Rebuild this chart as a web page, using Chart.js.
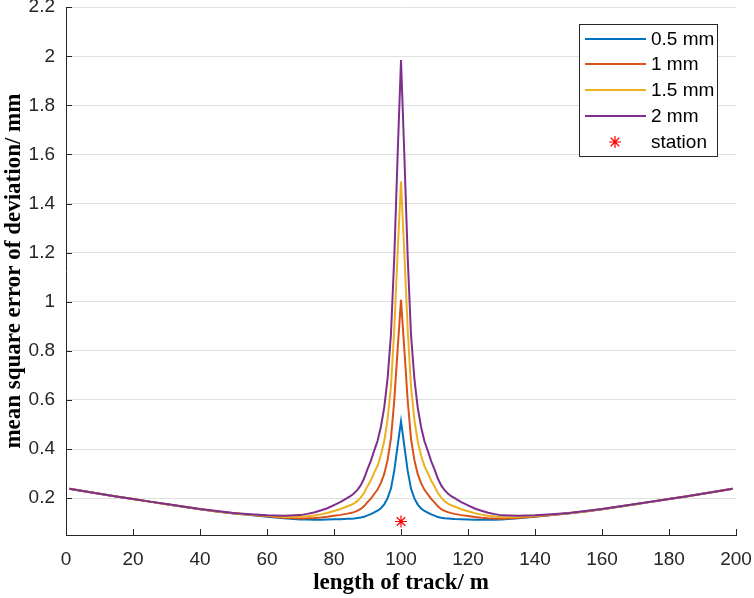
<!DOCTYPE html>
<html><head><meta charset="utf-8">
<script src="https://cdn.jsdelivr.net/npm/chart.js@4/dist/chart.umd.min.js"></script>
<style>html,body{margin:0;padding:0;background:#fff;overflow:hidden}canvas{display:block}</style>
</head><body>
<canvas id="c" width="754" height="598"></canvas>
<script>
// distance along track (m)
const xPos = [1,5,10,15,20,25,30,35,40,45,50,55,60,65,70,72,74,76,78,80,82,84,85,86,87,88,89,90,91,92,93,94,95,96,97,98,99,
  100,
  101,102,103,104,105,106,107,108,109,110,111,112,113,114,115,116,118,120,122,124,126,128,130,135,140,145,150,155,160,165,170,175,180,185,190,195,199];
// mean square error of deviation (mm)
const mm05 = [0.238,0.229,0.218,0.207,0.197,0.186,0.175,0.165,0.155,0.146,0.138,0.131,0.124,0.118,0.113,
  0.113,0.112,0.112,0.113,0.114,0.114,0.116,
  0.116,0.117,0.119,0.121,0.124,0.130,0.135,0.142,0.149,0.159,0.175,0.200,0.239,0.313,0.414,
  0.513,
  0.412,0.311,0.238,0.199,0.174,0.158,0.148,0.141,0.134,0.129,0.123,0.120,0.118,0.117,0.116,0.115,0.114,0.113,0.112,0.112,0.112,0.112,0.113,0.118,0.124,0.131,0.138,0.146,0.155,0.165,0.175,0.186,0.197,0.207,0.218,0.229,0.238];
const mm1 = [0.238,0.229,0.218,0.207,0.197,0.186,0.175,0.165,0.155,0.146,0.139,0.132,0.126,0.120,0.117,
  0.118,0.119,0.121,0.124,0.128,0.132,0.137,
  0.140,0.143,0.149,0.156,0.168,0.184,0.198,0.217,0.235,0.262,0.299,0.356,0.443,0.599,0.807,
  1.008,
  0.805,0.597,0.441,0.355,0.298,0.261,0.234,0.216,0.197,0.183,0.167,0.155,0.148,0.143,0.139,0.136,0.131,0.127,0.123,0.120,0.118,0.117,0.116,0.119,0.125,0.131,0.139,0.146,0.155,0.165,0.175,0.186,0.197,0.207,0.218,0.229,0.238];
const mm15 = [0.238,0.229,0.218,0.207,0.197,0.186,0.175,0.166,0.156,0.147,0.139,0.133,0.128,0.123,0.123,
  0.126,0.129,0.134,0.140,0.148,0.156,0.167,
  0.172,0.179,0.189,0.203,0.222,0.249,0.273,0.304,0.332,0.375,0.433,0.521,0.654,0.891,1.202,
  1.490,
  1.198,0.888,0.652,0.519,0.431,0.374,0.331,0.303,0.272,0.248,0.221,0.202,0.188,0.178,0.171,0.166,0.155,0.147,0.139,0.133,0.128,0.125,0.122,0.123,0.127,0.133,0.139,0.147,0.156,0.166,0.175,0.186,0.197,0.207,0.218,0.229,0.238];
const mm2 = [0.238,0.229,0.218,0.207,0.197,0.186,0.176,0.166,0.156,0.148,0.140,0.135,0.130,0.128,0.131,
  0.136,0.142,0.150,0.159,0.172,0.185,0.201,
  0.209,0.220,0.234,0.253,0.281,0.318,0.352,0.394,0.433,0.491,0.570,0.688,0.866,1.185,1.600,
  1.985,
  1.596,1.181,0.863,0.686,0.568,0.490,0.432,0.393,0.351,0.317,0.280,0.252,0.233,0.219,0.208,0.200,0.184,0.171,0.158,0.149,0.141,0.135,0.130,0.128,0.130,0.135,0.140,0.148,0.156,0.166,0.176,0.186,0.197,0.207,0.218,0.229,0.238];
const stationX = [100];
const stationY = [0.105];
const seriesLabels = ['0.5 mm','1 mm','1.5 mm','2 mm','station'];
const seriesColors = ['#0072BD','#D95319','#EDB120','#7E2F8E','#FF0000'];
const xTicks = [0,20,40,60,80,100,120,140,160,180,200];
const yTicks = [0.2,0.4,0.6,0.8,1.0,1.2,1.4,1.6,1.8,2.0,2.2];
const yTickLabels = ['0.2','0.4','0.6','0.8','1','1.2','1.4','1.6','1.8','2','2.2'];

const pts = (xs, ys) => xs.map((x, i) => ({x: x, y: ys[i]}));

const insideTicks = {
  id: 'insideTicks',
  beforeDatasetsDraw(chart) {
    const {ctx, chartArea: a, scales: {x, y}} = chart;
    ctx.save();
    ctx.strokeStyle = '#262626';
    ctx.lineWidth = 1;
    ctx.beginPath();
    xTicks.forEach(v => { const px = Math.round(x.getPixelForValue(v)) + 0.5; ctx.moveTo(px, a.bottom); ctx.lineTo(px, a.bottom - 6); });
    yTicks.forEach(v => { const py = Math.round(y.getPixelForValue(v)) + 0.5; ctx.moveTo(a.left, py); ctx.lineTo(a.left + 6, py); });
    ctx.stroke();
    ctx.restore();
  }
};

const legendBox = {
  id: 'legendBox',
  afterDraw(chart) {
    const ctx = chart.ctx;
    const bx = 579.5, by = 24.5, bw = 138, bh = 132;
    ctx.save();
    ctx.fillStyle = '#ffffff';
    ctx.fillRect(bx, by, bw, bh);
    ctx.strokeStyle = '#262626';
    ctx.lineWidth = 1;
    ctx.strokeRect(bx, by, bw, bh);
    const rows = [39, 64, 90, 116, 142];
    ctx.font = '19px "Liberation Sans", Arial, sans-serif';
    ctx.textBaseline = 'middle';
    ctx.textAlign = 'left';
    chart.data.datasets.forEach((ds, i) => {
      const ry = rows[i];
      ctx.strokeStyle = ds.borderColor;
      if (i < 4) {
        ctx.lineWidth = 2;
        ctx.beginPath();
        ctx.moveTo(585, ry); ctx.lineTo(646, ry);
        ctx.stroke();
      } else {
        ctx.lineWidth = 1.2;
        const r = 6, d = r * Math.SQRT1_2;
        ctx.beginPath();
        ctx.moveTo(615 - r, ry); ctx.lineTo(615 + r, ry);
        ctx.moveTo(615, ry - r); ctx.lineTo(615, ry + r);
        ctx.moveTo(615 - d, ry - d); ctx.lineTo(615 + d, ry + d);
        ctx.moveTo(615 - d, ry + d); ctx.lineTo(615 + d, ry - d);
        ctx.stroke();
      }
      ctx.fillStyle = '#000000';
      ctx.fillText(ds.label, 651, ry + 1);
    });
    ctx.restore();
  }
};

const lineDs = (i, data, order) => ({
  label: seriesLabels[i], data: pts(xPos, data), borderColor: seriesColors[i],
  backgroundColor: seriesColors[i], borderWidth: 2, pointRadius: 0, tension: 0, fill: false, order: order
});

new Chart(document.getElementById('c').getContext('2d'), {
  type: 'line',
  data: {
    datasets: [
      lineDs(0, mm05, 4),
      lineDs(1, mm1, 3),
      lineDs(2, mm15, 2),
      lineDs(3, mm2, 1),
      {type: 'scatter', label: seriesLabels[4], data: pts(stationX, stationY), pointStyle: 'star',
       pointRadius: 6, borderColor: seriesColors[4], backgroundColor: seriesColors[4], pointBorderWidth: 1.2, showLine: false, order: 0}
    ]
  },
  options: {
    responsive: false, animation: false, devicePixelRatio: 1,
    layout: {padding: {left: 0, right: 18, top: 7, bottom: 0}},
    plugins: {legend: {display: false}, tooltip: {enabled: false}},
    scales: {
      x: {
        type: 'linear', min: 0, max: 200,
        afterBuildTicks: s => { s.ticks = xTicks.map(v => ({value: v})); },
        ticks: {callback: v => String(v), font: {family: '"Liberation Sans", Arial, sans-serif', size: 19}, color: '#262626', padding: 13, maxRotation: 0, minRotation: 0, autoSkip: false},
        grid: {display: false, drawTicks: false},
        border: {display: true, color: '#262626', width: 1},
        title: {display: true, text: 'length of track/ m', color: '#000', font: {family: '"Liberation Serif", "Times New Roman", serif', weight: 'bold', size: 23, lineHeight: 1.2}, padding: {top: 0, bottom: 1}},
        afterFit: s => { s.height = 63; s.paddingLeft = 0; s.paddingRight = 0; }
      },
      y: {
        type: 'linear', min: 0.05, max: 2.2,
        afterBuildTicks: s => { s.ticks = yTicks.map(v => ({value: v})); },
        ticks: {callback: (v, i) => yTickLabels[i], font: {family: '"Liberation Sans", Arial, sans-serif', size: 19}, color: '#262626', padding: 11, autoSkip: false},
        grid: {display: true, drawTicks: false, color: '#e0e0e0', lineWidth: 1},
        border: {display: true, color: '#262626', width: 1},
        title: {display: true, text: 'mean square error of deviation/ mm', color: '#000', font: {family: '"Liberation Serif", "Times New Roman", serif', weight: 'bold', size: 23, lineHeight: 1.2}, padding: {top: 0, bottom: 0}},
        afterFit: s => { s.width = 66; s.paddingTop = 0; s.paddingBottom = 0; }
      }
    }
  },
  plugins: [insideTicks, legendBox]
});
</script>
</body></html>
